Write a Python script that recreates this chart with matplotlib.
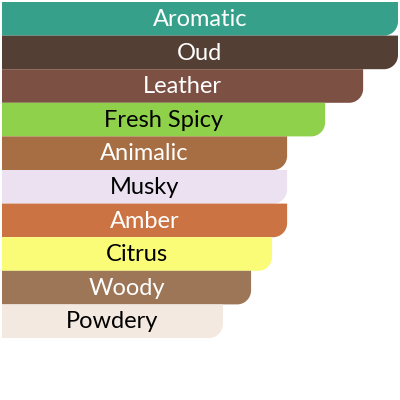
import matplotlib
matplotlib.use("Agg")
import matplotlib.pyplot as plt
from matplotlib.path import Path
from matplotlib.patches import PathPatch

categories = ["Aromatic", "Oud", "Leather", "Fresh Spicy", "Animalic",
              "Musky", "Amber", "Citrus", "Woody", "Powdery"]
values = [100, 100, 91.2, 81.6, 72.0, 72.0, 72.0, 68.2, 62.9, 55.8]
colors = ["#37A08A", "#543F34", "#7D5044", "#8FD14A", "#A66E42",
          "#EBE1F0", "#CC7343", "#FAFC78", "#9C7656", "#F3E9E0"]
text_colors = ["white", "white", "white", "black", "white",
               "black", "white", "black", "white", "black"]

W, H = 400, 400
fig = plt.figure(figsize=(4, 4), dpi=100)
left_px, right_px, top_px, bot_px = 2, 398, 2, 338
ax = fig.add_axes([left_px / W, 1 - bot_px / H, (right_px - left_px) / W, (bot_px - top_px) / H])
ax.set_xlim(0, 100)
ax.set_ylim(len(categories), 0)
ax.axis("off")

bar_px = (bot_px - top_px) / len(categories)
r_px = 14
rx = r_px / (right_px - left_px) * 100
ry = r_px / bar_px
k = 0.5523

for i, (cat, v, c, tc) in enumerate(zip(categories, values, colors, text_colors)):
    y0, y1 = i, i + 1  # y increases downward (inverted axis)
    verts = [
        (0, y0), (v, y0), (v, y1 - ry),
        (v, y1 - ry + k * ry), (v - rx + k * rx, y1), (v - rx, y1),
        (0, y1), (0, y0),
    ]
    codes = [Path.MOVETO, Path.LINETO, Path.LINETO,
             Path.CURVE4, Path.CURVE4, Path.CURVE4,
             Path.LINETO, Path.CLOSEPOLY]
    ax.add_patch(PathPatch(Path(verts, codes), facecolor=c, edgecolor="none"))
    ax.text(v / 2, i + 0.52, cat, ha="center", va="center", color=tc,
            fontsize=17, family=["Lato", "DejaVu Sans"])

fig.savefig("out.png", dpi=100, facecolor="white")
